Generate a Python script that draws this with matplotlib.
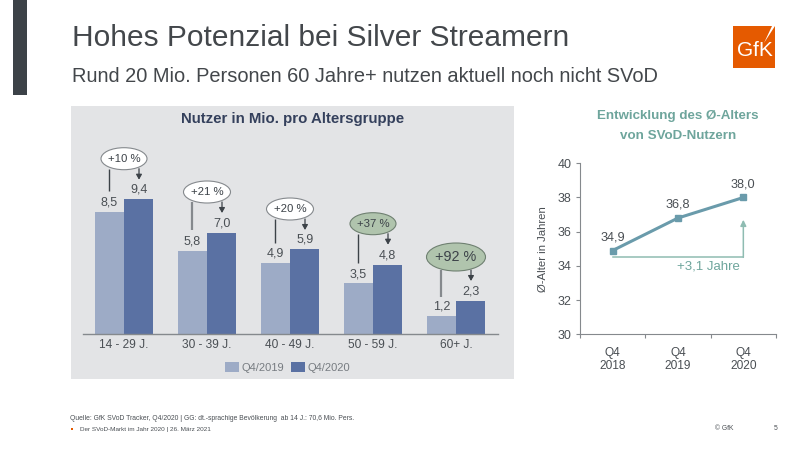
import matplotlib
matplotlib.use('Agg')
import matplotlib.pyplot as plt
from matplotlib.patches import Ellipse, Rectangle, Polygon

plt.rcParams['font.family'] = ['Liberation Sans', 'DejaVu Sans']

age_groups = ['14 - 29 J.', '30 - 39 J.', '40 - 49 J.', '50 - 59 J.', '60+ J.']
users_2019 = [8.5, 5.8, 4.9, 3.5, 1.2]
users_2020 = [9.4, 7.0, 5.9, 4.8, 2.3]
growth_labels = ['+10 %', '+21 %', '+20 %', '+37 %', '+92 %']
bar_series = ['Q4/2019', 'Q4/2020']

age_quarters = ['Q4\n2018', 'Q4\n2019', 'Q4\n2020']
avg_age = [34.9, 36.8, 38.0]
age_ticks = [30, 32, 34, 36, 38, 40]

TEXT = '#4a4f54'
LIGHT = '#9dabc6'
DARK = '#5a71a3'
TEAL = '#6ea59c'
LINE = '#6a9bab'
W, H = 800, 450


def de(value):
    return f'{value:.1f}'.replace('.', ',')


fig = plt.figure(figsize=(8, 4.5), dpi=100, facecolor='white')

# pixel overlay for everything that belongs to the slide and not to a chart
bg = fig.add_axes([0, 0, 1, 1], zorder=0)
bg.set_xlim(0, W)
bg.set_ylim(H, 0)
bg.axis('off')
bg.add_patch(Rectangle((13, 0), 14, 95, color='#3c4248', lw=0))
bg.add_patch(Rectangle((71, 106), 443, 273, color='#e3e4e6', lw=0))

bg.text(72, 38, 'Hohes Potenzial bei Silver Streamern', fontsize=21.5, color='#43474b', va='center')
bg.text(72, 77, 'Rund 20 Mio. Personen 60 Jahre+ nutzen aktuell noch nicht SVoD', fontsize=14.45,
        color='#43474b', va='center')
bg.text(292.5, 119, 'Nutzer in Mio. pro Altersgruppe', fontsize=10.8, fontweight='bold', color='#34405c',
        ha='center', va='center')
bg.text(678, 116, 'Entwicklung des Ø-Alters', fontsize=9.6, fontweight='bold', color=TEAL, ha='center', va='center')
bg.text(678, 136, 'von SVoD-Nutzern', fontsize=9.6, fontweight='bold', color=TEAL, ha='center', va='center')

# logo
bg.add_patch(Rectangle((733, 26), 42, 42, color='#e55a00', lw=0))
bg.add_patch(Polygon([(772, 26), (775, 26), (764, 43)], color='white', lw=0))
bg.text(755, 51, 'GfK', fontsize=15, color='white', ha='center', va='center')

# footer
bg.text(70, 418, 'Quelle: GfK SVoD Tracker, Q4/2020 | GG: dt.-sprachige Bevölkerung  ab 14 J.: 70,6 Mio. Pers.',
        fontsize=4.85, color=TEXT, va='center')
bg.add_patch(Rectangle((71, 428), 2, 2, color='#e55a00', lw=0))
bg.text(80, 429, 'Der SVoD-Markt im Jahr 2020 | 26. März 2021', fontsize=4.6, color=TEXT, va='center')
bg.text(715, 428, '© GfK', fontsize=4.9, color=TEXT, va='center')
bg.text(774, 428, '5', fontsize=4.9, color=TEXT, va='center')

# bar chart, 14.3 px per million
ax = fig.add_axes([82.5 / W, 1 - 333.5 / H, 415 / W, 214.5 / H], zorder=1)
ax.patch.set_alpha(0)
width = 0.355
positions = list(range(len(age_groups)))
ax.bar([p - width / 2 for p in positions], users_2019, width, color=LIGHT, label=bar_series[0])
ax.bar([p + width / 2 for p in positions], users_2020, width, color=DARK, label=bar_series[1])
for p, v19, v20 in zip(positions, users_2019, users_2020):
    ax.text(p - width / 2, v19 + 0.66, de(v19), fontsize=9, color=TEXT, ha='center', va='center')
    ax.text(p + width / 2, v20 + 0.66, de(v20), fontsize=9, color=TEXT, ha='center', va='center')
ax.set_xlim(-0.5, 4.5)
ax.set_ylim(0, 15)
ax.set_yticks([])
ax.set_xticks(positions)
ax.set_xticklabels(age_groups, fontsize=8.6, color=TEXT)
ax.tick_params(axis='x', length=0, pad=4)
for side in ['top', 'left', 'right']:
    ax.spines[side].set_visible(False)
ax.spines['bottom'].set_color('#85898d')
ax.spines['bottom'].set_linewidth(1)

# growth bubbles with their connectors
bubble_y = [158.7, 192, 209, 223.7, 257]
bubble_w = [46, 47, 47, 46, 59]
bubble_h = [22, 22, 22, 22, 28]
bubble_fill = ['white', 'white', 'white', '#b0c4ad', '#b0c4ad']
bubble_edge = ['#85898d', '#85898d', '#85898d', '#6f8071', '#6f8071']
bubble_size = [8.2, 8.2, 8.2, 8.2, 10.4]
line_end = [191, 230, 243, 263, 297]
line_w = [1, 1.6, 1, 1, 1.6]
line_col = ['#3c4248', '#85898d', '#3c4248', '#3c4248', '#85898d']
fg = fig.add_axes([0, 0, 1, 1], zorder=2)
fg.set_xlim(0, W)
fg.set_ylim(H, 0)
fg.axis('off')
for i, label in enumerate(growth_labels):
    cx = 124 + 83 * i
    y = bubble_y[i]
    bottom = y + bubble_h[i] / 2
    fg.plot([cx - 15, cx - 15], [bottom - 1, line_end[i]], color=line_col[i], lw=line_w[i], solid_capstyle='butt')
    fg.annotate('', xy=(cx + 15, bottom + 10), xytext=(cx + 15, bottom - 1),
                arrowprops=dict(arrowstyle='-|>,head_length=0.3,head_width=0.17', color='#3c4248', lw=0.9,
                                shrinkA=0, shrinkB=0))
    fg.add_patch(Ellipse((cx, y), bubble_w[i], bubble_h[i], fc=bubble_fill[i], ec=bubble_edge[i], lw=0.8, zorder=3))
    fg.text(cx, y, label, fontsize=bubble_size[i], color='#3c4248', ha='center', va='center', zorder=4)

# legend
fg.add_patch(Rectangle((224.5, 362), 14, 10, color=LIGHT, lw=0))
fg.text(242, 368, bar_series[0], fontsize=8, color='#777c81', va='center')
fg.add_patch(Rectangle((290.5, 362), 14, 10, color=DARK, lw=0))
fg.text(308, 368, bar_series[1], fontsize=8, color='#777c81', va='center')

# line chart
ax2 = fig.add_axes([580 / W, 1 - 334.3 / H, 196 / W, 171 / H], zorder=1)
ax2.patch.set_alpha(0)
x_pos = list(range(len(age_quarters)))
ax2.plot(x_pos, avg_age, color=LINE, lw=2.2, marker='s', ms=4.8, clip_on=False)
for x, v in zip(x_pos, avg_age):
    ax2.text(x, v + 0.78, de(v), fontsize=9.2, color=TEXT, ha='center', va='center')
ax2.plot([x_pos[0], x_pos[-1]], [34.54, 34.54], color='#8fbcb2', lw=1.1)
ax2.annotate('', xy=(x_pos[-1], 36.7), xytext=(x_pos[-1], 34.5),
             arrowprops=dict(arrowstyle='-|>,head_length=0.35,head_width=0.17', color='#8fbcb2', lw=1.1,
                             shrinkA=0, shrinkB=0))
ax2.text(1.46, 33.97, '+3,1 Jahre', fontsize=9.5, color=TEAL, ha='center', va='center')
ax2.set_xlim(-0.5, 2.5)
ax2.set_ylim(30, 40)
ax2.set_yticks(age_ticks)
ax2.set_yticklabels(age_ticks, fontsize=9, color=TEXT)
ax2.set_ylabel('Ø-Alter in Jahren', fontsize=8.2, color=TEXT, labelpad=7)
ax2.set_xticks(x_pos)
ax2.set_xticklabels(age_quarters, fontsize=8.6, color=TEXT, linespacing=1.15)
ax2.set_xticks([-0.5, 0.5, 1.5, 2.5], minor=True)
ax2.tick_params(axis='x', which='major', length=0, pad=9)
ax2.tick_params(axis='x', which='minor', length=3, color='#85898d', width=0.8)
ax2.tick_params(axis='y', length=3, color='#85898d', width=0.8, pad=3)
for side in ['top', 'right']:
    ax2.spines[side].set_visible(False)
for side in ['left', 'bottom']:
    ax2.spines[side].set_color('#85898d')
    ax2.spines[side].set_linewidth(0.8)

fig.savefig('out.png', dpi=100)
